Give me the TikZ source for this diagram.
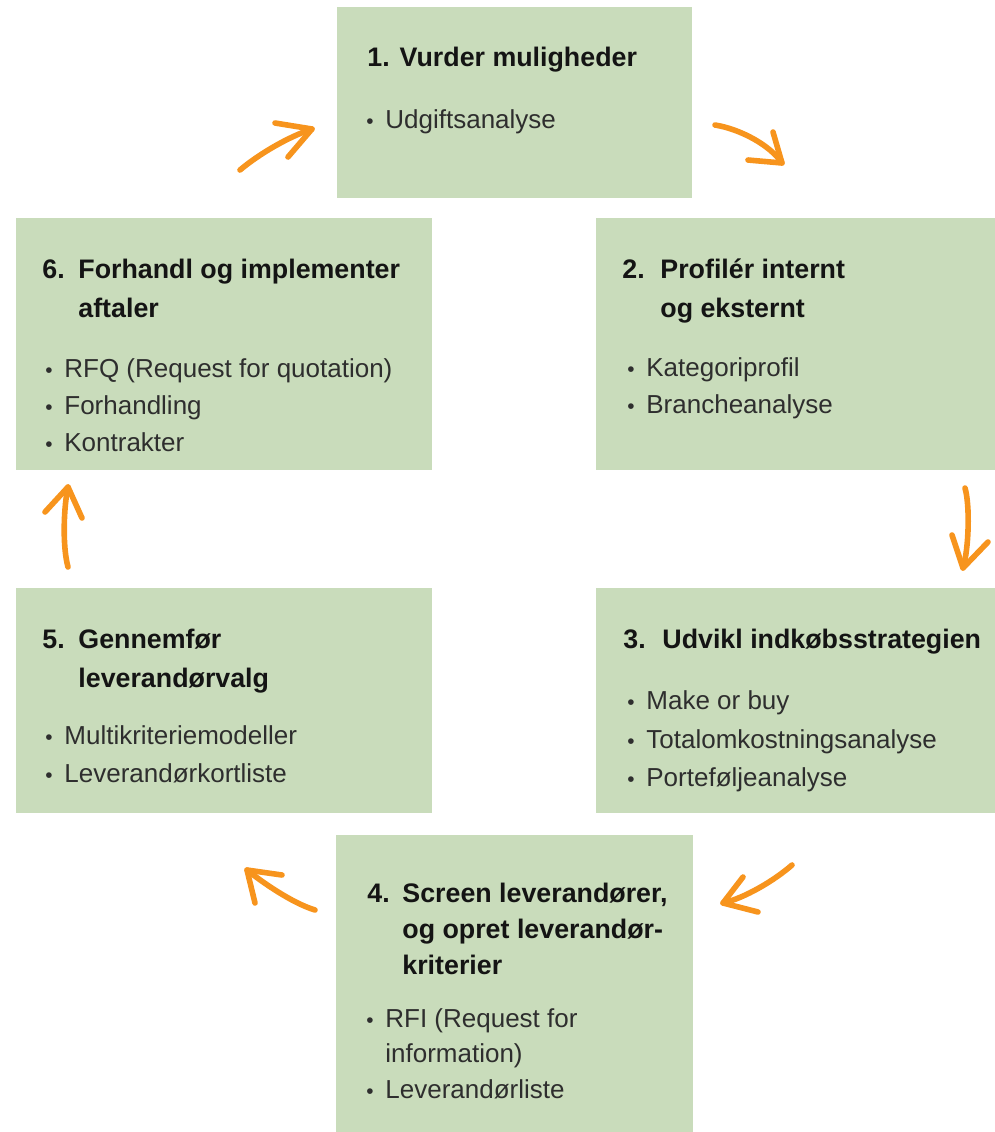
\documentclass[tikz,border=0pt]{standalone}
\usepackage{fontspec}
\setmainfont{Liberation Sans}
\definecolor{boxgreen}{HTML}{C9DCBB}
\definecolor{flowor}{HTML}{F7941D}
\definecolor{titleink}{HTML}{141414}
\definecolor{bodyink}{HTML}{2E2E2E}
\tikzset{
  box/.style={fill=boxgreen, draw=none, inner sep=0pt, anchor=north west},
  ttl/.style={anchor=base west, inner sep=0pt, text=titleink,
    font=\fontsize{13.4}{16}\selectfont\bfseries},
  bodytxt/.style={anchor=base west, inner sep=0pt, text=bodyink,
    font=\fontsize{13}{16}\selectfont},
  flow/.style={draw=flowor, line width=2.8pt, line cap=round, line join=round},
}
% bullet line: name, x, y, text
\newcommand\bulline[4]{\node[bodytxt] (#1) at (#2,#3) {\hbox to 9.5pt{\scalebox{0.8}{•}\hfil}#4};}
\begin{document}
\begin{tikzpicture}[x=0.5pt,y=-0.5pt]
\useasboundingbox (0,0) rectangle (995,1132);

% ---- process boxes
\node[box, minimum width=177.5pt, minimum height=95.5pt]  (b1) at (337,7)   {};
\node[box, minimum width=199.5pt, minimum height=126pt]   (b2) at (596,218) {};
\node[box, minimum width=199.5pt, minimum height=112.5pt] (b3) at (596,588) {};
\node[box, minimum width=178.5pt, minimum height=148.5pt] (b4) at (336,835) {};
\node[box, minimum width=208pt,   minimum height=112.5pt] (b5) at (16,588)  {};
\node[box, minimum width=208pt,   minimum height=126pt]   (b6) at (16,218)  {};

% ---- 1
\node[ttl] (t1) at (367,66) {1. Vurder muligheder};
\bulline{i11}{366}{128}{Udgiftsanalyse}

% ---- 2
\node[ttl] (n2) at (622,278) {2.};
\node[ttl] (t2a) at (660,278) {Profilér internt};
\node[ttl] (t2b) at (660,317) {og eksternt};
\bulline{i21}{627}{376}{Kategoriprofil}
\bulline{i22}{627}{413}{Brancheanalyse}

% ---- 3
\node[ttl] (n3) at (623,648) {3.};
\node[ttl] (t3a) at (662,648) {Udvikl indkøbsstrategien};
\bulline{i31}{627}{709}{Make or buy}
\bulline{i32}{627}{748}{Totalomkostningsanalyse}
\bulline{i33}{627}{786}{Porteføljeanalyse}

% ---- 4
\node[ttl] (n4) at (367,902) {4.};
\node[ttl] (t4a) at (402,902) {Screen leverandører,};
\node[ttl] (t4b) at (402,938) {og opret leverandør-};
\node[ttl] (t4c) at (402,974) {kriterier};
\bulline{i41}{366}{1027}{RFI (Request for}
\node[bodytxt] (i41b) at (385,1062) {information)};
\bulline{i42}{366}{1098}{Leverandørliste}

% ---- 5
\node[ttl] (n5) at (42,648) {5.};
\node[ttl] (t5a) at (78,648) {Gennemfør};
\node[ttl] (t5b) at (78,687) {leverandørvalg};
\bulline{i51}{45}{744}{Multikriteriemodeller}
\bulline{i52}{45}{782}{Leverandørkortliste}

% ---- 6
\node[ttl] (n6) at (42,278) {6.};
\node[ttl] (t6a) at (78,278) {Forhandl og implementer};
\node[ttl] (t6b) at (78,317) {aftaler};
\bulline{i61}{45}{377}{RFQ (Request for quotation)}
\bulline{i62}{45}{414}{Forhandling}
\bulline{i63}{45}{451}{Kontrakter}

% ---- hand-drawn cycle arrows (tail s, tip e)
\coordinate (a1s) at (240,170); \coordinate (a1e) at (312,129);
\coordinate (a2s) at (715,125); \coordinate (a2e) at (782,163);
\coordinate (a3s) at (965,488); \coordinate (a3e) at (963,568);
\coordinate (a4s) at (792,865); \coordinate (a4e) at (723,903);
\coordinate (a5s) at (315,910); \coordinate (a5e) at (247,870);
\coordinate (a6s) at (68,567);  \coordinate (a6e) at (68,487);

\draw[flow] (a1s) .. controls (259,154) and (288,137) .. (a1e);
\draw[flow] (a1e) ++(-37,-6) -- (a1e) -- ++(-24,28);

\draw[flow] (a2s) .. controls (740,129) and (770,145) .. (a2e);
\draw[flow] (a2e) ++(-9,-31) -- (a2e) -- ++(-34,-3);

\draw[flow] (a3s) .. controls (970,505) and (969,548) .. (a3e);
\draw[flow] (a3e) ++(-11,-33) -- (a3e) -- ++(25,-26);

\draw[flow] (a4s) .. controls (775,880) and (745,898) .. (a4e);
\draw[flow] (a4e) ++(20,-26) -- (a4e) -- ++(35,9);

\draw[flow] (a5s) .. controls (292,903) and (262,882) .. (a5e);
\draw[flow] (a5e) ++(35,5) -- (a5e) -- ++(8,33);

\draw[flow] (a6s) .. controls (62,545) and (64,505) .. (a6e);
\draw[flow] (a6e) ++(-23,25) -- (a6e) -- ++(14,31);
\end{tikzpicture}
\end{document}
